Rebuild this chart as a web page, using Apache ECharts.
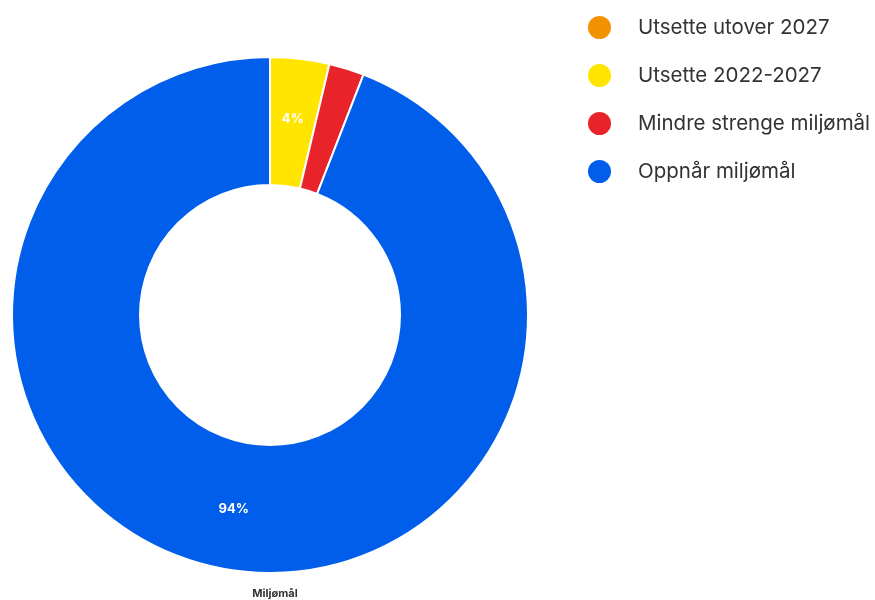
<!DOCTYPE html>
<html>
<head>
<meta charset="utf-8">
<script src="https://cdn.jsdelivr.net/npm/echarts@6/dist/echarts.min.js"></script>
<style>html,body{margin:0;padding:0;background:#fff}#c{width:875px;height:600px}</style>
</head>
<body>
<div id="c"></div>
<script>
var categories = ['Utsette utover 2027', 'Utsette 2022-2027', 'Mindre strenge miljømål', 'Oppnår miljømål'];
var values = [0, 3.7, 2.2, 94.1];
var colors = ['#f39200', '#ffe500', '#e8232a', '#005eea'];
var title = 'Miljømål';

var chart = echarts.init(document.getElementById('c'));
var data = categories.map(function (n, i) { return { name: n, value: values[i], itemStyle: { color: colors[i] } }; });
chart.setOption({
  animation: false,
  title: {
    text: title, left: 270, top: 583, textAlign: 'center',
    textStyle: { fontFamily: 'Inter, sans-serif', fontSize: 11, fontWeight: 'bold', color: '#333' }
  },
  legend: {
    orient: 'vertical', left: 581, top: 9,
    icon: 'circle', itemWidth: 25, itemHeight: 25, itemGap: 21,
    textStyle: { fontFamily: 'Inter, sans-serif', fontSize: 20.5, color: '#333', padding: [0, 0, 0, 21] },
    data: categories
  },
  series: [{
    type: 'pie',
    center: [270, 315],
    radius: [130, 258],
    startAngle: 90,
    clockwise: true,
    avoidLabelOverlap: false,
    itemStyle: { borderColor: '#fff', borderWidth: 2 },
    label: {
      show: true, position: 'inside', color: '#fff', fontFamily: 'Inter, sans-serif',
      fontSize: 13, fontWeight: 'bold',
      formatter: function (p) { return p.percent >= 3 ? Math.round(p.percent) + '%' : ''; }
    },
    labelLine: { show: false },
    data: data
  }]
});
</script>
</body>
</html>
